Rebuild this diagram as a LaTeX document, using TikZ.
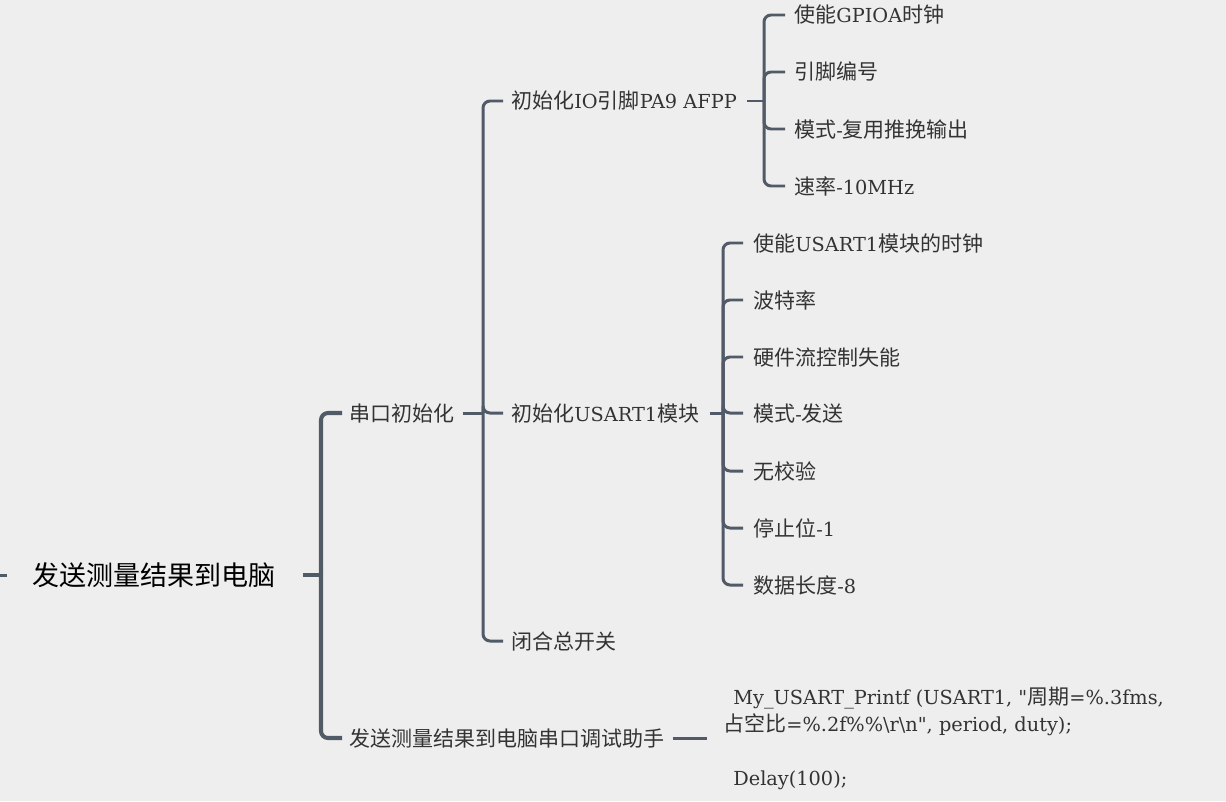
\documentclass[tikz,border=0pt]{standalone}
\usepackage{fontspec}
\setmainfont{DejaVu Serif}[Scale=0.92]
\newfontfamily\codefont{DejaVu Serif}[Scale=0.92]
\newfontfamily\zhfont{Noto Sans CJK SC}
\newcommand\zh[1]{{\zhfont#1}}
\usetikzlibrary{calc}
\definecolor{bgcol}{HTML}{EEEEEE}
\definecolor{linkcol}{HTML}{515A67}
\definecolor{txtcol}{HTML}{333333}

\begin{document}
\begin{tikzpicture}[
    x=0.02cm, y=-0.02cm, % 1 unité = 1 pixel de la capture
    every node/.style={anchor=west, inner sep=0pt},
    topic/.style={text=txtcol, font=\fontsize{11.95pt}{14pt}\selectfont,
        text height=0.37cm, text depth=0.05cm},
    root/.style={text=black, font=\fontsize{15.4pt}{18pt}\selectfont,
        text height=0.475cm, text depth=0.065cm},
    code/.style={text=txtcol, align=left, font=\codefont\fontsize{11.95pt}{0.54cm}\selectfont},
    link/.style={draw=linkcol, line width=1.7pt, rounded corners=0.14cm},
    mainlink/.style={link, line width=2.3pt}
]
% Fond
\fill[bgcol] (0,0) rectangle (1226,801);
\useasboundingbox (0,0) rectangle (1226,801);

% Racine
\node[root] (root) at (32,575) {\zh{发送测量结果到电脑}};
% Niveau 1
\node[topic] (init) at (349,413) {\zh{串口初始化}};
\node[topic] (send) at (349,738) {\zh{发送测量结果到电脑串口调试助手}};
% Niveau 2
\node[topic] (io) at (511,101) {\zh{初始化}IO\zh{引脚}PA9 AFPP};
\node[topic] (usart) at (511,413) {\zh{初始化}USART1\zh{模块}};
\node[topic] (sw) at (511,641) {\zh{闭合总开关}};
% Niveau 3 : broche
\node[topic] (io1) at (794,15) {\zh{使能}GPIOA\zh{时钟}};
\node[topic] (io2) at (794,72) {\zh{引脚编号}};
\node[topic] (io3) at (794,129) {\zh{模式}-\zh{复用推挽输出}};
\node[topic] (io4) at (794,186) {\zh{速率}-10MHz};
% Niveau 3 : module
\node[topic] (us1) at (753,243) {\zh{使能}USART1\zh{模块的时钟}};
\node[topic] (us2) at (753,300) {\zh{波特率}};
\node[topic] (us3) at (753,357) {\zh{硬件流控制失能}};
\node[topic] (us4) at (753,413) {\zh{模式}-\zh{发送}};
\node[topic] (us5) at (753,471) {\zh{无校验}};
\node[topic] (us6) at (753,528) {\zh{停止位}-1};
\node[topic] (us7) at (753,585) {\zh{数据长度}-8};
% Code
\node[code] (code) at (723,738) {\hspace*{0.2cm}My\_USART\_Printf (USART1, "\zh{周期}=\%.3fms,\\
    \zh{占空比}=\%.2f\%\%\textbackslash r\textbackslash n", period, duty);\\[0.54cm]
    \hspace*{0.2cm}Delay(100);};

% Jonctions
\coordinate (lft) at (0,575);
\coordinate (rootj) at (321,575);
\coordinate (initj) at (483,413);
\coordinate (ioj) at (764,101);
\coordinate (usj) at (723,413);

% Liens
\draw[link] (lft) -- ($(root.west)-(25,0)$);
\draw[mainlink] ($(root.east)+(27,0)$) -- (rootj);
\foreach \c in {init,send}
    \draw[mainlink] (rootj) |- ($(\c.west)-(7,0)$);
\draw[link] ($(init.east)+(8,0)$) -- (initj);
\foreach \c in {io,usart,sw}
    \draw[link] (initj) |- ($(\c.west)-(8,0)$);
\draw[link] ($(io.east)+(10,0)$) -- (ioj);
\foreach \c in {io1,io2,io3,io4}
    \draw[link] (ioj) |- ($(\c.west)-(9,0)$);
\draw[link] ($(usart.east)+(10,0)$) -- (usj);
\foreach \c in {us1,us2,us3,us4,us5,us6,us7}
    \draw[link] (usj) |- ($(\c.west)-(10,0)$);
\draw[link] ($(send.east)+(8,0)$) -- ($(code.west)-(16,0)$);
\end{tikzpicture}
\end{document}
